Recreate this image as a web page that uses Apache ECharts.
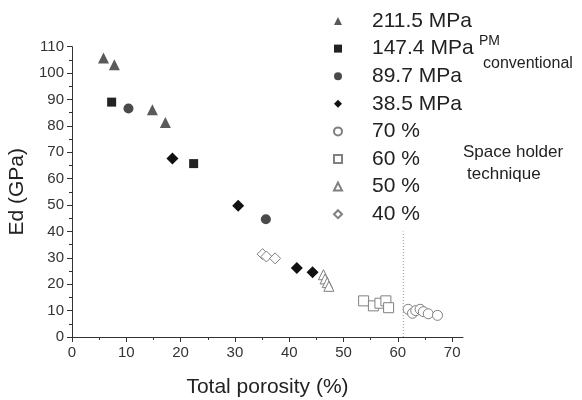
<!DOCTYPE html>
<html><head><meta charset="utf-8">
<script src="https://cdn.jsdelivr.net/npm/echarts@6/dist/echarts.min.js"></script>
<style>html,body{margin:0;padding:0;background:#fff}#c{width:582px;height:400px}</style>
</head><body><div id="c"></div>
<script>
var names = ['211.5 MPa','147.4 MPa','89.7 MPa','38.5 MPa','70 %','60 %','50 %','40 %'];
var s2115 = [[5.8,105.7],[7.8,103.2],[14.8,86.1],[17.2,81.3]];
var s1474 = [[7.3,89.0],[22.4,65.7]];
var s897 = [[10.4,86.6],[35.7,44.6]];
var s385 = [[18.5,67.6],[30.6,49.7],[41.4,26.1],[44.3,24.5]];
var p70 = [[61.9,10.5],[62.7,9.0],[63.3,10.0],[64.1,10.5],[64.7,9.6],[65.6,8.8],[67.3,8.2]];
var p60 = [[53.7,13.7],[55.5,11.8],[56.7,12.8],[57.8,13.7],[58.3,11.1]];
var p50 = [[46.3,23.6],[46.6,22.0],[47.0,20.6],[47.3,19.2]];
var p40 = [[35.1,31.4],[35.8,30.5],[37.4,29.8]];
var divider = [[61,0],[61,40]];
var xMajor = [0,10,20,30,40,50,60,70];
var xMinor = [5,15,25,35,45,55,65];

var F = 'Liberation Sans, Arial, sans-serif';
var chart = echarts.init(document.getElementById('c'));
function filled(name, data, sym, size, col){
  return {name:name, type:'scatter', data:data, symbol:sym, symbolSize:size,
    itemStyle:{color:col, opacity:1}, z:3};
}
function hollow(name, data, sym, size){
  return {name:name, type:'scatter', data:data, symbol:sym, symbolSize:size,
    itemStyle:{color:'#fff', borderColor:'#808080', borderWidth:1, opacity:1}, z:2};
}
chart.setOption({
  animation:false,
  backgroundColor:'#fff',
  grid:{left:72, right:119, top:46.7, bottom:63, containLabel:false, outerBoundsMode:'none'},
  legend:{
    orient:'vertical', left:328, top:5, itemGap:5.6, itemWidth:8, itemHeight:8,
    data:names,
    textStyle:{fontFamily:F, fontSize:21, color:'#222', lineHeight:22, padding:[0,0,0,25]},
    selectedMode:false
  },
  xAxis:[{
    type:'value', min:0, max:72,
    axisLine:{lineStyle:{color:'#333', width:1}},
    axisTick:{customValues:xMajor, length:5, lineStyle:{color:'#333'}},
    axisLabel:{customValues:xMajor, fontFamily:F, fontSize:15, color:'#333', margin:8},
    splitLine:{show:false},
    name:'Total porosity (%)', nameLocation:'middle', nameGap:40,
    nameTextStyle:{fontFamily:F, fontSize:21, color:'#222'}
  },{
    type:'value', min:0, max:72, position:'bottom',
    axisLine:{show:false},
    axisTick:{customValues:xMinor, length:3, lineStyle:{color:'#333'}},
    axisLabel:{show:false}, splitLine:{show:false}
  }],
  yAxis:{
    type:'value', min:0, max:110, interval:10,
    axisLine:{show:true, lineStyle:{color:'#333', width:1}},
    axisTick:{show:true, length:5, lineStyle:{color:'#333'}},
    minorTick:{show:true, splitNumber:2, length:3, lineStyle:{color:'#333'}},
    axisLabel:{fontFamily:F, fontSize:15, color:'#333', margin:8},
    splitLine:{show:false},
    name:'Ed (GPa)', nameLocation:'middle', nameGap:33, nameRotate:90,
    nameTextStyle:{fontFamily:F, fontSize:21, color:'#222'}
  },
  series:[
    filled(names[0], s2115, 'triangle', 11, '#5a5a5a'),
    filled(names[1], s1474, 'rect', 9, '#222'),
    filled(names[2], s897, 'circle', 10, '#4a4a4a'),
    filled(names[3], s385, 'diamond', 12, '#111'),
    hollow(names[4], p70, 'circle', 10),
    hollow(names[5], p60, 'rect', 10),
    hollow(names[6], p50, 'triangle', 10),
    hollow(names[7], p40, 'diamond', 11),
    {type:'line', data:divider, symbol:'none', silent:true,
     lineStyle:{color:'#999', width:1, type:[1,2]}, z:1}
  ],
  graphic:[
    {type:'text', left:479, top:34, style:{text:'PM', font:'14px '+F, fill:'#222'}},
    {type:'text', left:483, top:56, style:{text:'conventional', font:'16px '+F, fill:'#222'}},
    {type:'text', left:463, top:144, style:{text:'Space holder', font:'17px '+F, fill:'#222'}},
    {type:'text', left:467, top:166, style:{text:'technique', font:'17px '+F, fill:'#222'}}
  ]
});
</script></body></html>
